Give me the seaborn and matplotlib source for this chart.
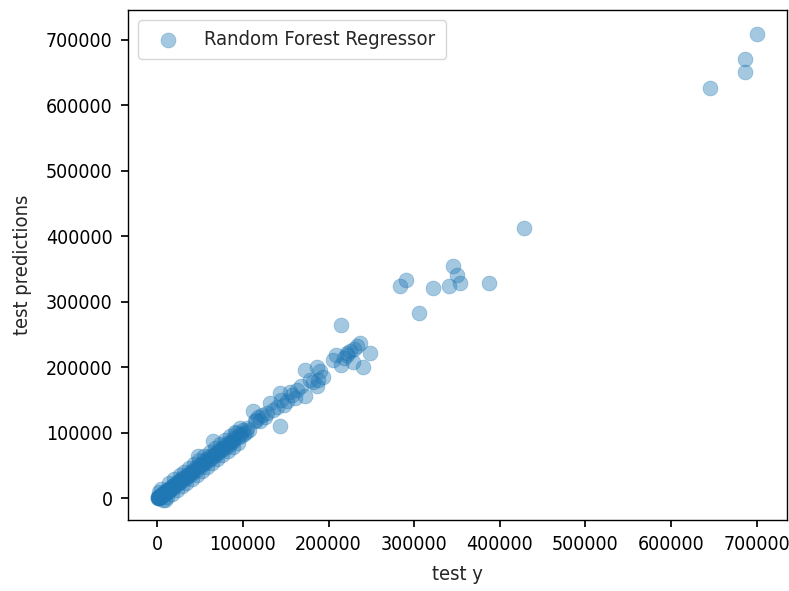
import pandas as pd
import matplotlib
matplotlib.use("Agg")
import matplotlib.pyplot as plt
import seaborn as sns

# test targets vs random forest predictions
test_y = [
    # dense band near the origin
    500, 800, 1000, 1200, 1500, 2000, 2500, 3000, 3000, 3500, 4000, 4500, 5000, 5000,
    6000, 6500, 7000, 7500, 8000, 9000, 9500, 10000, 10500, 11000, 12000, 12500,
    13000, 14000, 15000, 16000, 17000, 18000, 19000, 20000, 21000, 22000, 23000,
    24000, 25000, 26000, 27000, 28000, 29000, 30000, 32000, 33000, 35000, 36000,
    38000, 39000, 41000, 42000, 44000, 45000, 47000, 48000, 50000, 51000, 53000,
    55000, 56000, 58000, 60000, 62000, 63000, 64500, 65000, 66000, 68000, 70000,
    72000, 73000, 75000, 77000, 79000, 80000, 82000, 84000, 86000, 87000, 89000,
    90000, 92000, 94000, 96000, 98000, 100000, 101000, 103000, 105000, 107000,
    # points on the edges of the band
    2000, 6000, 4000, 9000, 14000, 11000, 20000, 17000, 26000, 23000, 31000, 29000,
    37000, 34000, 43000, 40000, 49000, 46000, 55000, 52000, 61000, 58000, 67000,
    64000, 73000, 70000, 79000, 76000, 85000, 82000, 91000, 88000, 97000, 94000,
    # 110k - 250k
    111500, 113500, 115000, 118000, 120000, 122000, 125500, 128000, 131000, 135000,
    140000, 143000, 143000, 145000, 148000, 151000, 154500, 157000, 160500, 163000,
    168000, 172000, 172000, 178000, 182000, 186000, 186000, 187500, 190000, 193500,
    205000, 209000, 214000, 215000, 218000, 221000, 222000, 225000, 228500, 230000,
    233000, 237000, 240000, 248500,
    # sparse upper range
    283000, 290000, 306000, 322000, 341000, 345000, 350000, 353000, 387000, 428000,
    646000, 686000, 687000, 701000,
]
test_predictions = [
    800, 300, 2000, 2500, 1000, 1500, 3000, 4000, 1000, 2500, 3000, 5500, 6000, 3500,
    5000, 7500, 8000, 9000, 7000, 10000, 8500, 9000, 11500, 12500, 11000, 13500,
    14000, 12000, 16000, 15000, 18500, 16500, 20000, 19000, 22500, 20000, 24000,
    23000, 26500, 25000, 28000, 27000, 30500, 29000, 33000, 31500, 36000, 35000,
    39500, 37000, 42000, 41000, 46000, 43000, 64000, 49000, 48000, 53000, 52000,
    57000, 54000, 60000, 58000, 64000, 62000, 87000, 67000, 65000, 70000, 68000,
    74000, 72000, 77000, 75000, 81000, 78000, 84000, 82000, 88000, 86000, 92000,
    89000, 100000, 93000, 98000, 96000, 105000, 99000, 102000, 108000, 104000,
    10000, -3000, 14000, -2000, 24000, 2000, 30000, 7000, 36000, 13000, 41000, 19000,
    47000, 24000, 53000, 30000, 59000, 36000, 65000, 42000, 71000, 48000, 77000,
    54000, 83000, 60000, 89000, 66000, 95000, 72000, 101000, 78000, 107000, 84000,
    133000, 117500, 120000, 125000, 118000, 128000, 125000, 130000, 146000, 135500,
    140000, 161000, 110000, 150000, 143000, 148000, 163000, 158000, 153000, 165000,
    171000, 156000, 196000, 180000, 178000, 201000, 171000, 181000, 195000, 186000,
    211000, 219000, 264000, 204000, 214000, 219000, 222000, 225000, 208000, 228000,
    232000, 237000, 201000, 222000,
    324000, 333000, 283000, 321000, 324000, 355000, 341000, 329000, 329000, 412000,
    626000, 650000, 670000, 709000,
]

df = pd.DataFrame({"test_y": test_y, "pred": test_predictions})

sns.set_theme(style="ticks", rc={"axes.edgecolor": "black", "xtick.color": "black",
                                 "ytick.color": "black", "axes.linewidth": 1.0})
plt.rcParams["font.family"] = ["DejaVu Sans"]
plt.rcParams["font.stretch"] = "condensed"

fig = plt.figure(figsize=(7.89, 5.91), dpi=100)
ax = fig.add_axes([0.162, 0.12, 0.836, 0.863])

sns.scatterplot(data=df, x="test_y", y="pred", ax=ax, s=115, alpha=0.4,
                color="#1f77b4", edgecolor="#1f77b4", linewidth=0.5,
                label="Random Forest Regressor")

ax.set_xticks(range(0, 700001, 100000))
ax.set_yticks(range(0, 700001, 100000))
ax.set_ylim(-33000, 745000)
ax.tick_params(labelsize=14, length=5, pad=6)
ax.set_xlabel("test y", fontsize=14.5, labelpad=8)
ax.set_ylabel("test predictions", fontsize=14.5, labelpad=10)
ax.legend(loc="upper left", fontsize=14.5, frameon=True, borderpad=0.5)

fig.savefig("out.png", dpi=100)
